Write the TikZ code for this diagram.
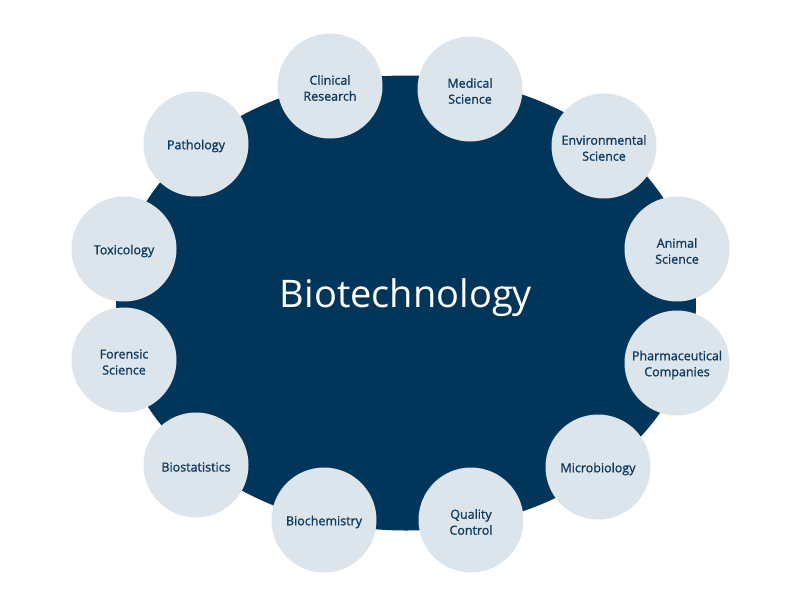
\documentclass[tikz,border=0pt]{standalone}
\usepackage{fontspec}
\usetikzlibrary{shapes.geometric}
\setmainfont{Open Sans}
\newfontfamily\semif[FakeBold=1.2]{Open Sans}
\definecolor{navy}{HTML}{02355A}
\definecolor{pale}{HTML}{DDE5EC}
\definecolor{txt}{HTML}{0E3A5E}
\begin{document}
\begin{tikzpicture}[x=1pt,y=-1pt,
  topic/.style={circle,fill=pale,minimum size=105pt,inner sep=0pt},
  lbl/.style={text=txt,font=\semif\fontsize{12.5}{16}\selectfont,align=center,inner sep=0pt}]
\useasboundingbox[fill=white] (0,0) rectangle (800,600);
\node[ellipse,fill=navy,minimum width=580pt,minimum height=455pt,inner sep=0pt] (core) at (406,303) {};
\node[text=white,font=\fontsize{38}{40}\selectfont] (title) at (406,298) {Biotechnology};
\foreach \n/\x/\y/\t in {c1/330/86/{Clinical\\Research},
  c2/470/89/{Medical\\Science},
  c3/604/146/{Environmental\\Science},
  c4/677/249/{Animal\\Science},
  c5/677/363/{Pharmaceutical\\Companies},
  c6/598/467/{Microbiology},
  c7/471/520/{Quality\\Control},
  c8/324/520/{Biochemistry},
  c9/196/465/{Biostatistics},
  c10/124/360/{Forensic\\Science},
  c11/124/249/{Toxicology},
  c12/196/144/{Pathology}}{
  \node[topic] (\n) at (\x,\y) {};
  \node[lbl] (\n-t) at ([yshift=-2pt]\n.center) {\t};
}
\end{tikzpicture}
\end{document}
